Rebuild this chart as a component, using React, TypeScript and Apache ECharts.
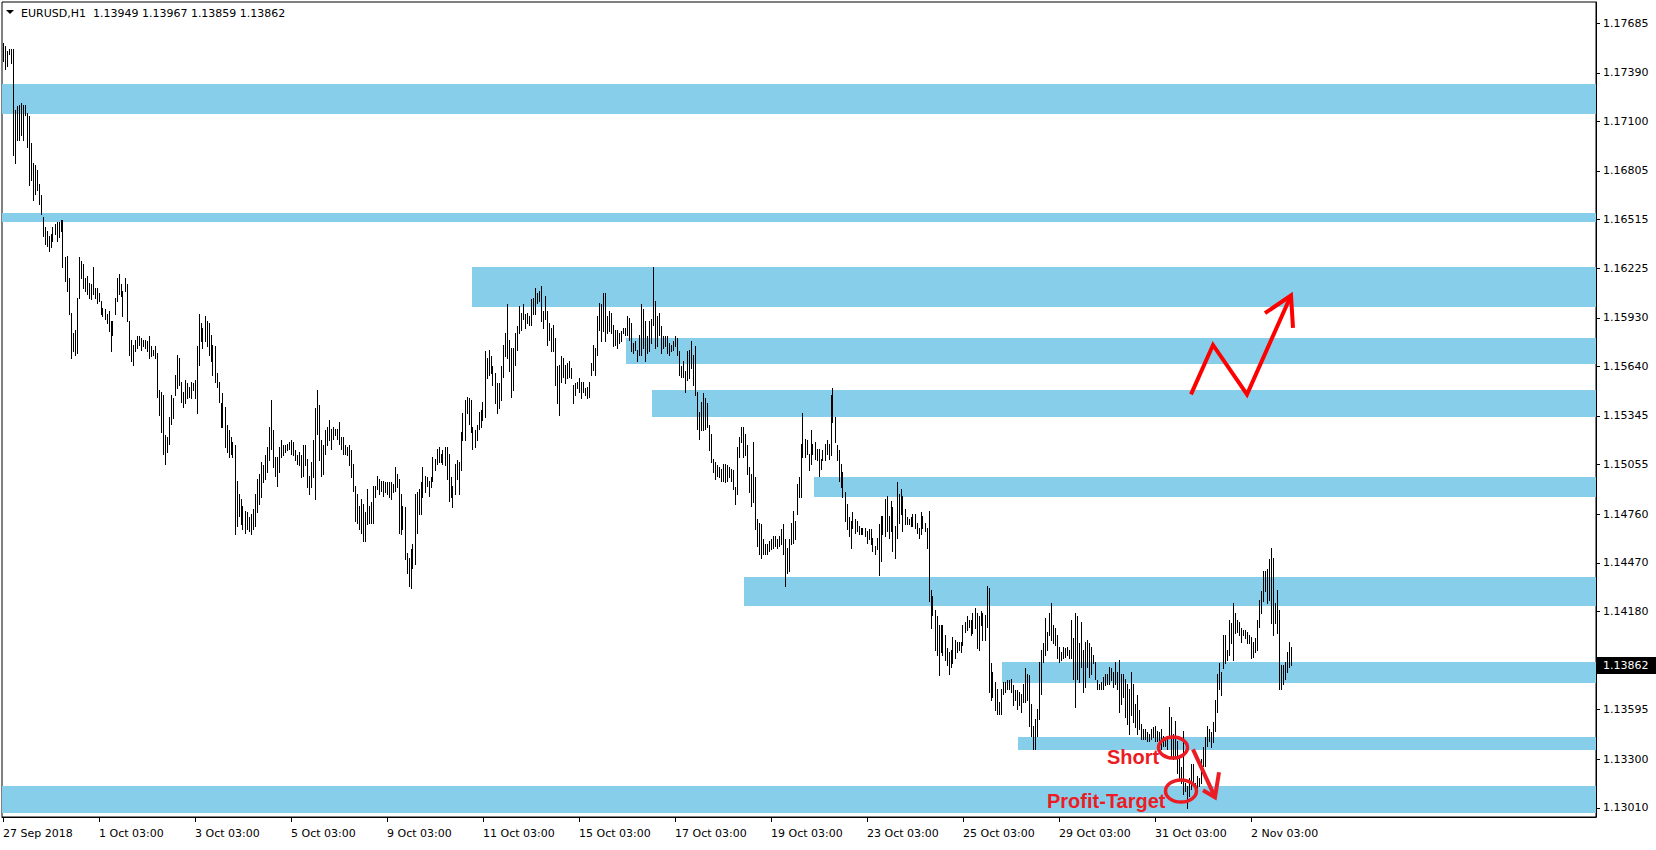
import React, { useEffect, useRef } from "react";
import * as echarts from "echarts";

// ---------- DATA ----------
const BASE_PRICE = 1.13; // bar values below are pips above this price
const PIP = 0.0001;

const tradingDays = [
  "27 Sep", "28 Sep", "1 Oct", "2 Oct", "3 Oct", "4 Oct", "5 Oct", "8 Oct", "9 Oct",
  "10 Oct", "11 Oct", "12 Oct", "15 Oct", "16 Oct", "17 Oct", "18 Oct", "19 Oct",
  "22 Oct", "23 Oct", "24 Oct", "25 Oct", "26 Oct", "29 Oct", "30 Oct", "31 Oct",
  "1 Nov", "2 Nov",
];
const FIRST_HOUR = 3;
const CHART_SHIFT_SLOTS = 152;

// [high, low] per H1 bar, pips above 1.13000
const weekSep27 = [
  [457,446],[455,441],[452,443],[453,450],[453,445],[453,390],[417,385],[419,399],[420,399],[421,402],
  [420,399],[420,414],[415,395],[413,372],[397,375],[385,363],[384,367],[381,369],[373,361],[366,355],
  [353,342],[347,337],[345,336],[342,333],[343,335],[347,339],[349,343],[350,339],[350,341],[351,345],
  [351,323],[329,315],[330,309],[317,295],[296,269],[284,273],[286,271],[305,272],[329,305],[327,317],
  [325,311],[317,309],[318,307],[314,305],[313,304],
];
const weekOct01 = [
  [323,307],[311,305],[311,302],[308,303],[303,295],[299,294],[298,292],[295,290],[297,285],[291,273],
  [291,283],[305,295],[317,303],[319,307],[313,306],[309,294],[317,309],[313,291],[291,271],[280,267],
  [277,265],[280,273],[282,275],[282,277],[281,274],[280,276],[280,275],[279,273],[282,269],[276,270],
  [274,271],[276,269],[272,246],[250,235],[249,225],[247,212],[223,206],[222,213],[234,218],[247,230],
  [245,233],[259,247],[271,251],[269,253],[255,243],[249,240],[256,242],[254,245],[252,246],[255,245],
  [254,250],[256,245],[276,236],[295,265],[290,279],[287,275],[294,279],[291,276],[290,271],[283,267],
  [277,259],[276,255],[260,252],[255,243],[242,228],[248,228],[240,216],[229,213],[226,210],[222,212],
  [219,210],[217,164],[196,169],[188,175],[185,170],[181,167],[178,165],[177,167],[174,166],[176,164],
  [179,167],[188,169],[197,177],[200,182],[207,186],[205,195],[211,197],[216,201],[228,208],[244,215],
  [226,204],[210,199],[210,193],[216,201],[220,210],[217,211],[217,213],[218,214],[219,215],[220,212],
  [219,211],[214,208],[211,206],[213,205],[211,198],[217,199],[217,205],[209,192],[199,188],[207,192],
  [220,198],[239,185],[250,224],[241,208],[220,199],[217,200],[226,212],[228,217],[232,220],[227,215],
];
const weekOct08 = [
  [228,221],[227,223],[227,221],[231,218],[222,215],[222,212],[217,212],[216,211],[217,205],[214,198],
  [206,190],[193,172],[188,171],[181,167],[185,165],[182,160],[177,160],[191,170],[181,171],[183,171],
  [193,171],[193,186],[199,191],[197,188],[196,190],[196,187],[195,189],[195,188],[195,186],[195,185],
  [194,189],[204,190],[200,192],[197,165],[188,164],[181,167],[180,149],[153,141],[150,133],[155,132],
  [158,144],[188,146],[189,165],[191,176],[195,176],[204,186],[199,189],[198,193],[196,187],[198,192],
  [210,196],[209,202],[215,206],[216,207],[212,207],[214,206],[216,205],[216,197],[212,184],[198,186],
  [193,180],[206,188],[208,197],[207,188],[225,202],[236,220],[244,220],[246,236],[245,230],[244,225],
  [228,215],[226,216],[229,220],[237,227],[238,228],[243,232],[273,234],[269,257],[274,259],[270,260],
  [264,253],[260,242],[254,236],[254,239],[264,244],[277,258],[284,270],[301,269],[280,261],[275,246],
  [275,250],[284,265],[288,274],[300,284],[296,286],[301,292],[295,287],[296,290],[294,289],[304,289],
  [305,295],[311,295],[308,302],[309,303],[312,291],[297,287],[306,292],[297,277],[290,280],[287,273],
  [289,273],[281,253],[264,242],[265,235],[270,255],[269,258],[265,254],[266,257],[267,258],[263,257],
];
const weekOct15 = [
  [253,242],[254,247],[255,251],[257,249],[255,245],[255,249],[251,247],[252,245],[255,246],[266,259],
  [277,262],[275,259],[294,271],[302,286],[301,279],[308,285],[308,279],[294,284],[297,285],[296,284],
  [289,276],[286,277],[286,275],[284,278],[285,279],[287,284],[287,283],[294,283],[293,280],[290,273],
  [278,272],[279,274],[274,267],[283,271],[301,271],[298,275],[291,267],[282,272],[291,273],[292,278],
  [323,289],[303,275],[294,276],[296,283],[288,272],[282,275],[282,276],[282,272],[278,271],[277,273],
  [279,274],[282,276],[281,271],[273,259],[264,258],[267,258],[261,249],[273,256],[274,257],[279,263],
  [271,253],[276,247],[249,227],[237,221],[243,226],[248,226],[245,227],[242,228],[229,214],[224,207],
  [209,201],[207,197],[205,199],[204,198],[203,196],[206,196],[206,195],[205,196],[204,198],[203,196],
  [202,191],[192,182],[216,188],[222,210],[228,219],[228,210],[224,211],[217,200],[204,189],[200,181],
  [219,183],[198,167],[173,157],[171,152],[170,150],[161,152],[158,152],[158,152],[160,154],[161,155],
  [163,156],[163,157],[161,156],[163,157],[167,158],[170,152],[161,133],[156,141],[161,142],[171,158],
  [178,159],[172,161],[194,176],[198,186],[218,186],[236,210],[221,210],[220,212],[212,202],[226,206],
];
const weekOct22 = [
  [218,212],[219,209],[215,208],[215,199],[209,203],[214,208],[218,208],[220,212],[218,209],[247,211],
  [251,231],[234,219],[217,208],[214,196],[206,192],[201,186],[189,172],[182,167],[174,163],[172,156],
  [177,168],[173,165],[172,166],[169,164],[168,164],[168,164],[168,163],[166,159],[167,161],[167,158],
  [162,154],[157,152],[162,155],[170,140],[175,148],[175,164],[185,163],[187,166],[175,162],[184,166],
  [180,154],[169,150],[195,162],[188,171],[191,176],[187,166],[179,170],[174,170],[173,170],[174,169],
  [176,169],[176,168],[171,165],[168,162],[177,164],[175,168],[171,166],[168,156],[178,124],[131,108],
  [127,116],[119,95],[115,92],[110,80],[110,94],[110,92],[104,89],[96,86],[94,81],[95,85],
  [103,87],[101,90],[100,94],[100,95],[100,94],[110,98],[112,106],[115,107],[113,109],[113,104],
  [117,105],[120,108],[117,96],[115,95],[118,110],[117,101],[116,101],[133,109],[132,70],[87,65],
  [82,67],[76,59],[72,57],[64,57],[72,57],[76,69],[76,70],[77,72],[77,72],[78,70],
  [74,62],[71,65],[71,60],[70,62],[69,58],[75,64],[84,64],[81,65],[80,50],[63,44],
  [50,36],[54,36],[60,44],[88,54],[95,69],[99,88],[114,92],[106,95],[117,104],[123,101],
];
const weekOct29 = [
  [110,99],[108,98],[104,90],[97,88],[94,89],[97,90],[96,91],[97,92],[95,90],[113,90],
  [102,78],[117,61],[115,78],[99,76],[112,85],[95,70],[100,73],[101,85],[99,79],[97,81],
  [92,87],[88,78],[77,72],[75,72],[76,72],[79,72],[81,74],[81,75],[85,75],[84,77],
  [82,73],[88,75],[82,72],[89,58],[81,63],[81,67],[78,55],[75,51],[72,45],[82,56],
  [75,52],[63,49],[68,45],[59,48],[51,42],[48,42],[48,42],[46,41],[45,41],[48,42],
  [49,43],[50,41],[47,41],[46,39],[48,36],[44,38],[42,38],[44,36],[61,44],[55,31],
  [45,30],[53,32],[41,22],[31,18],[25,16],[47,9],[16,11],[14,1],[19,8],[27,12],
  [27,14],[16,11],[20,12],[19,14],[30,16],[37,26],[43,26],[50,38],[48,41],[46,37],
  [52,40],[65,47],[81,58],[87,72],[82,68],[104,84],[104,87],[95,89],[113,92],[111,99],
  [123,89],[117,105],[113,106],[112,104],[108,100],[107,104],[107,102],[106,99],[104,99],[103,90],
  [100,91],[102,94],[113,95],[125,109],[130,117],[142,124],[142,130],[143,123],[149,125],[156,111],
  [150,104],[123,111],[131,105],[119,72],[86,72],[86,75],[88,78],[94,82],[100,85],[97,86],
];

// last bar quote: open, high, low, close
const symbolName = "EURUSD,H1";
const lastQuote = [1.13949, 1.13967, 1.13859, 1.13862];

// price scale
const Y_MIN = 1.12955;
const Y_MAX = 1.17812;
const yTickValues = [
  1.17685, 1.1739, 1.171, 1.16805, 1.16515, 1.16225, 1.1593, 1.1564, 1.15345,
  1.15055, 1.1476, 1.1447, 1.1418, 1.13595, 1.133, 1.1301,
];
const X_LABEL_STEP = 48;
const xTickLabels = [
  "27 Sep 2018", "1 Oct 03:00", "3 Oct 03:00", "5 Oct 03:00", "9 Oct 03:00",
  "11 Oct 03:00", "15 Oct 03:00", "17 Oct 03:00", "19 Oct 03:00", "23 Oct 03:00",
  "25 Oct 03:00", "29 Oct 03:00", "31 Oct 03:00", "2 Nov 03:00",
];

// support / resistance zones: [first bar, top price, bottom price]
const zones = [
  [0, 1.17325, 1.17145],
  [0, 1.16553, 1.16498],
  [235, 1.16231, 1.15995],
  [312, 1.15808, 1.15656],
  [325, 1.15501, 1.1534],
  [406, 1.14981, 1.14864],
  [371, 1.14386, 1.14212],
  [500, 1.13876, 1.13753],
  [508, 1.13433, 1.13353],
  [0, 1.13142, 1.12977],
];

// annotations in (bar, price)
const zigzagPath = [[594, 1.15474], [605, 1.15768], [622, 1.15474], [644, 1.16063]];
const zigzagHead = [[631, 1.15958], [644, 1.16063], [645, 1.1587]];
const shortArrowPath = [[595, 1.13358], [606, 1.13073]];
const shortArrowHead = [[600, 1.13114], [606, 1.13073], [608, 1.13222]];
// [bar, price, radius in bars, radius in price]
const ellipses = [
  [585, 1.13369, 7.25, 0.00063],
  [589, 1.1311, 7.75, 0.00066],
];
// [bar, price, text]
const noteTexts: [number, number, string][] = [
  [552, 1.13312, "Short"],
  [522, 1.13052, "Profit-Target"],
];

// ---------- BUILD ----------
const allBars = [...weekSep27, ...weekOct01, ...weekOct08, ...weekOct15, ...weekOct22, ...weekOct29];

const categories: string[] = [];
tradingDays.forEach((d, di) => {
  for (let h = di === 0 ? FIRST_HOUR : 0; h < 24; h++) {
    categories.push(`${d} ${String(h).padStart(2, "0")}:00`);
  }
});
for (let k = 0; k < CHART_SHIFT_SLOTS; k++) categories.push(`shift ${k}`);

const barData = allBars.map(([h, l], i) => [
  i,
  +(BASE_PRICE + h * PIP).toFixed(5),
  +(BASE_PRICE + l * PIP).toFixed(5),
]);

const FONT = "'DejaVu Sans', Verdana, sans-serif";
const NOTE_FONT = "'Liberation Sans', Arial, sans-serif";
const ZONE_COLOR = "#87CEEB";
const ARROW_RED = "#FF0000";
const NOTE_RED = "#EC1C24";

const isLabelIndex = (i: number) => i % X_LABEL_STEP === 0 && i / X_LABEL_STEP < xTickLabels.length;

function buildOption(): any {
  return {
    animation: false,
    backgroundColor: "#ffffff",
    grid: {
      left: 2,
      right: 60,
      top: 2,
      bottom: 33,
      show: true,
      borderColor: "#000",
      borderWidth: 1,
      backgroundColor: "transparent",
    },
    xAxis: {
      type: "category",
      data: categories,
      boundaryGap: true,
      axisLine: { show: true, lineStyle: { color: "#000", width: 1 } },
      axisTick: {
        show: true,
        alignWithLabel: true,
        length: 5,
        interval: (i: number) => isLabelIndex(i),
        lineStyle: { color: "#000" },
      },
      axisLabel: {
        show: true,
        interval: (i: number) => isLabelIndex(i),
        formatter: (_v: string, i: number) => xTickLabels[i / X_LABEL_STEP] ?? "",
        align: "left",
        margin: 11,
        color: "#000",
        fontFamily: FONT,
        fontSize: 11,
      },
      splitLine: { show: false },
    },
    yAxis: {
      type: "value",
      position: "right",
      min: Y_MIN,
      max: Y_MAX,
      axisLine: { show: true, lineStyle: { color: "#000", width: 1 } },
      axisTick: {
        show: true,
        length: 4,
        customValues: yTickValues,
        lineStyle: { color: "#000" },
      },
      axisLabel: {
        show: true,
        customValues: yTickValues,
        formatter: (v: number) => v.toFixed(5),
        margin: 7,
        color: "#000",
        fontFamily: FONT,
        fontSize: 11,
      },
      splitLine: { show: false },
    },
    series: [
      {
        type: "custom",
        name: "zones",
        z: 1,
        silent: true,
        encode: { x: 0, y: [1, 2] },
        data: zones,
        renderItem: (params: any, api: any) => {
          const top = api.coord([api.value(0), api.value(1)]);
          const bot = api.coord([api.value(0), api.value(2)]);
          const cs = params.coordSys;
          const x = Math.round(top[0]) - 1;
          const y = Math.round(top[1]);
          return {
            type: "rect",
            shape: { x, y, width: cs.x + cs.width - x, height: Math.round(bot[1]) - y },
            style: { fill: ZONE_COLOR },
          };
        },
      },
      {
        type: "custom",
        name: "EURUSD",
        z: 2,
        silent: true,
        encode: { x: 0, y: [1, 2] },
        data: barData,
        renderItem: (_params: any, api: any) => {
          const hi = api.coord([api.value(0), api.value(1)]);
          const lo = api.coord([api.value(0), api.value(2)]);
          const x = Math.floor(hi[0]) + 0.5;
          return {
            type: "line",
            shape: { x1: x, y1: Math.round(hi[1]), x2: x, y2: Math.round(lo[1]) + 1 },
            style: { stroke: "#000", lineWidth: 1 },
          };
        },
      },
      {
        type: "custom",
        name: "bid",
        z: 5,
        silent: true,
        clip: false,
        encode: { x: 0, y: 1 },
        data: [[0, lastQuote[3]]],
        renderItem: (params: any, api: any) => {
          const p = api.coord([0, api.value(1)]);
          const cs = params.coordSys;
          const x = cs.x + cs.width + 1;
          const y = Math.round(p[1]);
          return {
            type: "group",
            children: [
              {
                type: "rect",
                shape: { x, y: y - 8, width: 59, height: 17 },
                style: { fill: "#000" },
              },
              {
                type: "text",
                x: x + 6,
                y: y + 0.5,
                style: {
                  text: lastQuote[3].toFixed(5),
                  fill: "#fff",
                  fontFamily: FONT,
                  fontSize: 11,
                  align: "left",
                  verticalAlign: "middle",
                },
              },
            ],
          };
        },
      },
      {
        type: "custom",
        name: "notes",
        z: 4,
        silent: true,
        encode: { x: 0, y: 1 },
        data: [[600, 1.14]],
        renderItem: (_params: any, api: any) => {
          const pt = (p: number[]) => api.coord([p[0], p[1]]);
          const children: any[] = [];
          children.push({
            type: "polyline",
            shape: { points: zigzagPath.map(pt) },
            style: { stroke: ARROW_RED, lineWidth: 4, fill: "none", lineJoin: "miter" },
          });
          children.push({
            type: "polyline",
            shape: { points: zigzagHead.map(pt) },
            style: { stroke: ARROW_RED, lineWidth: 4, fill: "none", lineJoin: "miter" },
          });
          children.push({
            type: "polyline",
            shape: { points: shortArrowPath.map(pt) },
            style: { stroke: NOTE_RED, lineWidth: 4, fill: "none" },
          });
          children.push({
            type: "polyline",
            shape: { points: shortArrowHead.map(pt) },
            style: { stroke: NOTE_RED, lineWidth: 4, fill: "none", lineJoin: "miter" },
          });
          ellipses.forEach(([b, p, rb, rp]) => {
            const c = pt([b, p]);
            const s = api.size([1, rp]);
            children.push({
              type: "ellipse",
              shape: { cx: c[0], cy: c[1], rx: s[0] * rb, ry: s[1] },
              style: { stroke: NOTE_RED, lineWidth: 3.5, fill: "none" },
            });
          });
          noteTexts.forEach(([b, p, t]) => {
            const c = pt([b, p]);
            children.push({
              type: "text",
              x: c[0],
              y: c[1],
              style: {
                text: t,
                fill: NOTE_RED,
                fontFamily: NOTE_FONT,
                fontWeight: "bold",
                fontSize: 20,
                align: "left",
                verticalAlign: "middle",
              },
            });
          });
          return { type: "group", children };
        },
      },
    ],
    graphic: [
      {
        type: "polygon",
        shape: { points: [[6, 10], [14, 10], [10, 14]] },
        style: { fill: "#000" },
        silent: true,
      },
      {
        type: "text",
        x: 21,
        y: 13,
        style: {
          text: `${symbolName}  ${lastQuote.map((v) => v.toFixed(5)).join(" ")}`,
          fill: "#000",
          fontFamily: FONT,
          fontSize: 11,
          verticalAlign: "middle",
        },
        silent: true,
      },
    ],
  };
}

export default function App() {
  const ref = useRef<HTMLDivElement>(null);
  useEffect(() => {
    if (!ref.current) return;
    const chart = echarts.init(ref.current, null, { renderer: "svg" });
    chart.setOption(buildOption());
    return () => chart.dispose();
  }, []);
  return (
    <div
      ref={ref}
      style={{ position: "absolute", left: 0, top: 0, width: 1656, height: 850, background: "#fff" }}
    />
  );
}
